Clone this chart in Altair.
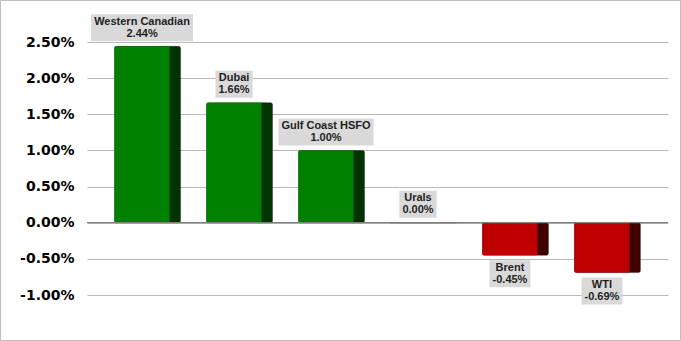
import altair as alt
import pandas as pd

# ---- data ----
names = ["Western Canadian", "Dubai", "Gulf Coast HSFO", "Urals", "Brent", "WTI"]
values = [2.44, 1.66, 1.00, 0.00, -0.45, -0.69]          # percent
tick_values = [-1.0, -0.5, 0.0, 0.5, 1.0, 1.5, 2.0, 2.5]  # percent

# Arial Bold advance widths (per 1000 em) used to size the label boxes
AW = {" ": 278, "%": 889, "-": 333, ".": 278,
      "A": 722, "B": 722, "C": 722, "D": 722, "F": 611, "G": 778, "H": 722,
      "I": 278, "O": 778, "S": 667, "T": 611, "U": 722, "W": 944,
      "a": 556, "b": 611, "d": 611, "e": 556, "f": 333, "i": 278, "l": 278,
      "n": 611, "o": 611, "r": 389, "s": 556, "t": 333, "u": 611}


def tw(s, size=11):
    return sum(AW.get(c, 556) for c in s) * size / 1000.0


def pct(v):
    return ("-" if v < 0 else "") + f"{abs(v):.2f}%"


rows = []
for n, v in zip(names, values):
    lab = pct(v)
    rows.append({"name": n, "v": v, "lab": lab,
                 "pos": v >= 0,
                 "boxw": max(tw(n), tw(lab)) + 6})
df = pd.DataFrame(rows)

W, H = 581, 253
x_enc = alt.X("name:N", sort=names, axis=None,
              scale=alt.Scale(paddingInner=0.283, paddingOuter=0.3))
y_scale = alt.Scale(domain=[-1.0, 2.5], nice=False, zero=False)
y_axis = alt.Axis(values=tick_values, title=None, domain=False, ticks=False,
                  labelOverlap=False,
                  labelExpr="(datum.value < 0 ? '-' : '') + format(abs(datum.value), '.2f') + '%'",
                  grid=True, gridColor="#b8b8b8", gridWidth=1,
                  labelFont="DejaVu Sans", labelFontWeight="bold", labelFontSize=14,
                  labelColor="#000000", labelPadding=13)


def Y(field="v:Q"):
    return alt.Y(field, scale=y_scale, axis=y_axis)


base = alt.Chart(df)

frame = alt.Chart(pd.DataFrame({"f": [0]})).mark_rect(
    filled=False, stroke="#bfbfbf", strokeWidth=1).encode(
    x=alt.value(-86.5), x2=alt.value(593.5), y=alt.value(-41.5), y2=alt.value(298.5)
)

side = base.mark_bar(cornerRadius=2, stroke="#1a1a1a", strokeWidth=0.4).encode(
    x=x_enc,
    y=Y(),
    y2=alt.datum(0),
    color=alt.condition(alt.datum.v >= 0, alt.value("#003300"), alt.value("#3f0000")),
)

front = base.mark_bar(size=55, xOffset=-5.5, cornerRadius=1).encode(
    x=x_enc,
    y=Y(),
    y2=alt.datum(0),
    color=alt.condition(alt.datum.v >= 0, alt.value("#008000"), alt.value("#c00000")),
)

zero = alt.Chart(pd.DataFrame({"z": [0]})).mark_rule(color="#7f7f7f", strokeWidth=1.2).encode(
    y=Y("z:Q")
)

layers = [side, front, zero, frame]
for positive in (True, False):
    sub = base.transform_filter(alt.datum.pos if positive else ~alt.datum.pos)
    s = -1 if positive else 1
    box = sub.mark_bar(fill="#d9d9d9", xOffset=-5.5,
                       yOffset=s * 5, y2Offset=s * 32).encode(
        x=x_enc,
        y=Y(),
        y2="v:Q",
        size=alt.Size("boxw:Q", scale=None, legend=None),
    )
    center = s * 18.5
    t1 = sub.mark_text(font="Liberation Sans", fontWeight="bold", fontSize=11,
                       color="#1f1f1f", baseline="middle", align="center",
                       dx=-5.5, dy=center - 6).encode(
        x=x_enc, y=Y(), text="name:N")
    t2 = sub.mark_text(font="Liberation Sans", fontWeight="bold", fontSize=11,
                       color="#1f1f1f", baseline="middle", align="center",
                       dx=-5.5, dy=center + 6).encode(
        x=x_enc, y=Y(), text="lab:N")
    layers += [box, t1, t2]

chart = alt.layer(*layers).properties(
    width=W, height=H,
    autosize=alt.AutoSizeParams(type="none"),
    padding={"left": 87, "top": 42, "right": 13, "bottom": 46},
    background="white",
).configure_view(stroke=None)

chart.save("out.html", embed_options={"renderer": "svg", "actions": False})
